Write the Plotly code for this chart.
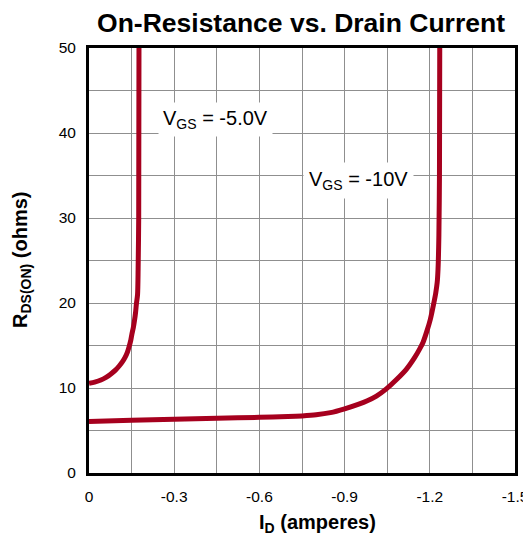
import plotly.graph_objects as go

# Data
id_vgs5 = [0.0, -0.02, -0.042, -0.06, -0.077, -0.093, -0.107, -0.118, -0.127, -0.135, -0.142,
           -0.147, -0.151, -0.156, -0.160, -0.164, -0.167, -0.171, -0.173, -0.175, -0.176]
r_vgs5 = [10.55, 10.7, 10.94, 11.25, 11.64, 12.1, 12.62, 13.1, 13.6, 14.2, 14.96,
          15.6, 16.33, 17.1, 17.9, 18.9, 19.93, 21.0, 24.0, 30.0, 50.0]

id_vgs10 = [0.0, -0.15, -0.3, -0.45, -0.6, -0.7, -0.75, -0.8, -0.85, -0.9, -0.95, -0.98,
            -1.012, -1.047, -1.082, -1.118, -1.147, -1.164, -1.176, -1.19, -1.202, -1.214,
            -1.221, -1.226, -1.229, -1.232, -1.234, -1.235]
r_vgs10 = [6.05, 6.2, 6.33, 6.44, 6.55, 6.64, 6.72, 6.85, 7.1, 7.55, 8.1, 8.5,
           9.05, 9.9, 10.97, 12.23, 13.6, 14.57, 15.36, 16.72, 18.09, 19.97,
           21.2, 22.4, 24.0, 28.0, 35.0, 50.0]

x_tickvals = [0, -0.3, -0.6, -0.9, -1.2, -1.5]
x_ticktext = ["0", "-0.3", "-0.6", "-0.9", "-1.2", "-1.5"]
y_tickvals = [0, 10, 20, 30, 40, 50]

curve_color = "#A6001E"
grid_color = "#8F8F8F"
font_family = "Liberation Sans, Arial, sans-serif"

L, R, T, B = 89, 8, 48, 65
W, H = 523, 538
PW, PH = W - L - R, H - T - B

def px_to_paper(px, py):
    return (px - L) / PW, (H - B - py) / PH

fig = go.Figure()
fig.add_trace(go.Scatter(x=id_vgs5, y=r_vgs5, mode="lines",
                         line=dict(color=curve_color, width=5, shape="spline", smoothing=0.7),
                         showlegend=False, hoverinfo="skip"))
fig.add_trace(go.Scatter(x=id_vgs10, y=r_vgs10, mode="lines",
                         line=dict(color=curve_color, width=5, shape="spline", smoothing=0.7),
                         showlegend=False, hoverinfo="skip"))

fig.update_layout(
    width=W, height=H,
    margin=dict(l=L, r=R, t=T, b=B, autoexpand=False),
    paper_bgcolor="white", plot_bgcolor="white",
    font=dict(family=font_family, color="black", size=15),
    title=dict(text="<b>On-Resistance vs. Drain Current</b>", xref="container", x=301/W, xanchor="center",
               yref="container", y=1 - 23/H, yanchor="middle", font=dict(size=26.5, family=font_family)),
)

common = dict(
    showgrid=True, gridcolor=grid_color, gridwidth=1,
    showline=True, linecolor="black", linewidth=3, mirror=True,
    ticks="outside", ticklen=7, tickcolor="rgba(0,0,0,0)",
    tickfont=dict(size=15.5, family=font_family), zeroline=False, automargin=False,
    ticklabeloverflow="allow",
)
fig.update_xaxes(range=[0, -1.5], tickvals=x_tickvals, ticktext=x_ticktext,
                 minor=dict(dtick=0.15, tick0=0, showgrid=True, gridcolor=grid_color, gridwidth=1),
                 **common)
fig.update_yaxes(range=[0, 50], tickvals=y_tickvals,
                 minor=dict(dtick=5, tick0=0, showgrid=True, gridcolor=grid_color, gridwidth=1),
                 **common)

xt_x, xt_y = px_to_paper(317.5, 523)
yt_x, yt_y = px_to_paper(21, 260)
annotations = [
    dict(text="V<sub>GS</sub> = -5.0V", x=-0.447, y=41.6, xref="x", yref="y",
         showarrow=False, bgcolor="white", borderpad=4, font=dict(size=20)),
    dict(text="V<sub>GS</sub> = -10V", x=-0.95, y=34.4, xref="x", yref="y",
         showarrow=False, bgcolor="white", borderpad=5, font=dict(size=20)),
    dict(text="<b>I<sub>D</sub> (amperes)</b>", x=xt_x, y=xt_y, xref="paper", yref="paper",
         xanchor="center", yanchor="middle", showarrow=False, font=dict(size=20)),
    dict(text="<b>R<sub>DS(ON)</sub> (ohms)</b>", x=yt_x, y=yt_y, xref="paper", yref="paper",
         xanchor="center", yanchor="middle", textangle=-90, showarrow=False, font=dict(size=20)),
]
fig.update_layout(annotations=annotations)

fig.write_html("out.html", config={"displayModeBar": False},
               post_script="document.body.style.margin='0px';document.body.style.overflow='hidden';")
